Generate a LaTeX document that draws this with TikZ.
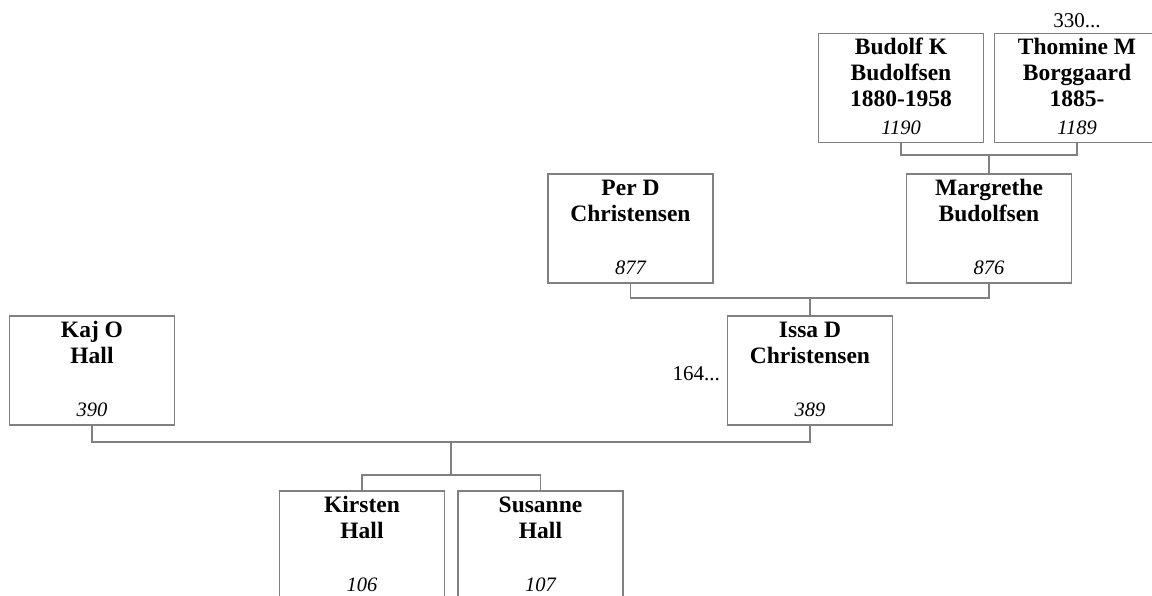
\documentclass[tikz,border=0pt]{standalone}
\usepackage{fontspec}
\setmainfont{Liberation Serif}
\definecolor{boxgray}{RGB}{128,128,128}
\tikzset{
  person/.style={draw=boxgray, line width=1.2pt, minimum width=165pt, minimum height=109pt, inner sep=0pt},
  nm/.style={font=\fontsize{23.5}{26}\selectfont\bfseries, anchor=base, inner sep=0pt},
  num/.style={font=\fontsize{20.5}{24}\selectfont\itshape, anchor=base, inner sep=0pt},
  extra/.style={font=\fontsize{21}{24}\selectfont, anchor=base, inner sep=0pt},
  link/.style={draw=boxgray, line width=1.2pt},
}
\begin{document}
\begin{tikzpicture}[x=1pt,y=-1pt]
\useasboundingbox (0,0) rectangle (1152,596);
% boxes
\node[person] (budolf) at (901,88) {};
\node[person] (thomine) at (1077,88) {};
\node[person] (per) at (630.5,228.5) {};
\node[person] (marg) at (989,228.5) {};
\node[person] (kaj) at (92,370.5) {};
\node[person] (issa) at (810,370.5) {};
\node[person] (kirsten) at (362,545.5) {};
\node[person] (susanne) at (540.5,545.5) {};
% texts
\node[nm] (budolf1) at ([yshift=-22pt]budolf.north) {Budolf K};
\node[nm] (budolf2) at ([yshift=-48pt]budolf.north) {Budolfsen};
\node[nm] (budolf3) at ([yshift=-74pt]budolf.north) {1880-1958};
\node[num] (budolfn) at ([yshift=9pt]budolf.south) {1190};
\node[nm] (thomine1) at ([yshift=-22pt]thomine.north) {Thomine M};
\node[nm] (thomine2) at ([yshift=-48pt]thomine.north) {Borggaard};
\node[nm] (thomine3) at ([yshift=-74pt]thomine.north) {1885-};
\node[num] (thominen) at ([yshift=9pt]thomine.south) {1189};
\node[extra] (thominex) at ([yshift=5pt]thomine.north) {330...};
\node[nm] (per1) at ([yshift=-22pt]per.north) {Per D};
\node[nm] (per2) at ([yshift=-48pt]per.north) {Christensen};
\node[num] (pern) at ([yshift=9pt]per.south) {877};
\node[nm] (marg1) at ([yshift=-22pt]marg.north) {Margrethe};
\node[nm] (marg2) at ([yshift=-48pt]marg.north) {Budolfsen};
\node[num] (margn) at ([yshift=9pt]marg.south) {876};
\node[nm] (kaj1) at ([yshift=-22pt]kaj.north) {Kaj O};
\node[nm] (kaj2) at ([yshift=-48pt]kaj.north) {Hall};
\node[num] (kajn) at ([yshift=9pt]kaj.south) {390};
\node[nm] (issa1) at ([yshift=-22pt]issa.north) {Issa D};
\node[nm] (issa2) at ([yshift=-48pt]issa.north) {Christensen};
\node[num] (issan) at ([yshift=9pt]issa.south) {389};
\node[extra, anchor=base east] (issax) at (720,380) {164...};
\node[nm] (kirsten1) at ([yshift=-22pt]kirsten.north) {Kirsten};
\node[nm] (kirsten2) at ([yshift=-48pt]kirsten.north) {Hall};
\node[num] (kirstenn) at ([yshift=9pt]kirsten.south) {106};
\node[nm] (susanne1) at ([yshift=-22pt]susanne.north) {Susanne};
\node[nm] (susanne2) at ([yshift=-48pt]susanne.north) {Hall};
\node[num] (susannen) at ([yshift=9pt]susanne.south) {107};
% connectors
\coordinate (j1) at (989,155);
\draw[link] (budolf.south) |- (j1) -| (thomine.south);
\draw[link] (j1) -- (marg.north);
\coordinate (j2) at (810,298);
\draw[link] (per.south) |- (j2) -| (marg.south);
\draw[link] (j2) -- (issa.north);
\coordinate (j3) at (451,442);
\coordinate (j4) at (451,475);
\draw[link] (kaj.south) |- (j3) -| (issa.south);
\draw[link] (j3) -- (j4);
\draw[link] (kirsten.north) |- (j4) -| (susanne.north);
\end{tikzpicture}
\end{document}
